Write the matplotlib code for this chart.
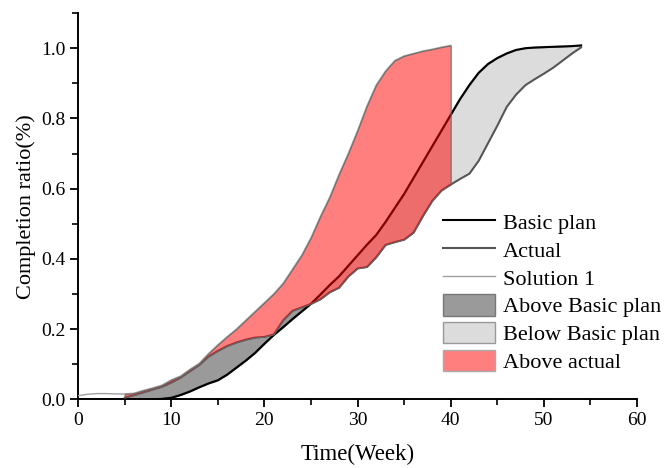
import matplotlib
matplotlib.use('Agg')
import matplotlib.pyplot as plt
import matplotlib.ticker as ticker
from matplotlib.patches import Patch
from matplotlib.lines import Line2D
import numpy as np

plt.rcParams['font.family'] = ['Liberation Serif', 'DejaVu Serif']

# ── Data (one value per week) ───────────────────────────────────────────────
weeks = np.arange(0, 55)
basic_plan = [0, 0, 0, 0, 0, 0, 0, 0, 0, 0.001,
              0.004, 0.012, 0.022, 0.034, 0.045, 0.054, 0.070, 0.090, 0.110, 0.132,
              0.158, 0.183, 0.205, 0.228, 0.250, 0.272, 0.298, 0.325, 0.350, 0.380,
              0.410, 0.440, 0.468, 0.505, 0.545, 0.585, 0.630, 0.675, 0.720, 0.765,
              0.810, 0.855, 0.895, 0.930, 0.955, 0.972, 0.985, 0.995, 1.000, 1.002,
              1.003, 1.004, 1.005, 1.006, 1.008]
actual = [np.nan, np.nan, np.nan, np.nan, np.nan, 0.005, 0.012, 0.020, 0.028, 0.036,
          0.048, 0.062, 0.080, 0.098, 0.122, 0.138, 0.152, 0.162, 0.170, 0.176,
          0.178, 0.185, 0.225, 0.252, 0.262, 0.272, 0.285, 0.305, 0.318, 0.350,
          0.373, 0.377, 0.405, 0.440, 0.448, 0.455, 0.475, 0.522, 0.565, 0.595,
          0.612, 0.628, 0.643, 0.680, 0.730, 0.780, 0.833, 0.868, 0.895, 0.912,
          0.928, 0.945, 0.965, 0.985, 1.003]
solution1 = [0.010, 0.014, 0.016, 0.016, 0.015, 0.015, 0.017, 0.025, 0.032, 0.040,
             0.055, 0.066, 0.085, 0.102, 0.130, 0.155, 0.178, 0.200, 0.225, 0.250,
             0.275, 0.300, 0.330, 0.370, 0.410, 0.460, 0.520, 0.575, 0.640, 0.700,
             0.765, 0.835, 0.895, 0.935, 0.965, 0.978, 0.985, 0.992, 0.997, 1.003,
             1.008] + [np.nan] * 14

basic_plan = np.array(basic_plan)
actual = np.array(actual)
solution1 = np.array(solution1)

# ── Figure ───────────────────────────────────────────────────────────────────
fig = plt.figure(figsize=(6.67, 4.68), dpi=100)
ax = fig.add_axes([0.117, 0.147, 0.838, 0.825])

has_act = ~np.isnan(actual)
has_sol = ~np.isnan(solution1) & has_act

ax.fill_between(weeks, actual, basic_plan, where=has_act & (actual <= basic_plan),
                interpolate=True, facecolor='#dcdcdc', edgecolor='#666666',
                linewidth=0.8, zorder=1)
ax.fill_between(weeks, actual, basic_plan, where=has_act & (actual >= basic_plan),
                interpolate=True, facecolor='#9a9a9a', edgecolor='#555555',
                linewidth=0.8, zorder=1)

ax.plot(weeks, basic_plan, color='black', linewidth=1.5, zorder=3)
ax.plot(weeks, actual, color='#555555', linewidth=1.2, zorder=3)
ax.plot(weeks, solution1, color='#a0a0a0', linewidth=1.0, zorder=3)

ax.fill_between(weeks, actual, solution1, where=has_sol,
                facecolor=(1, 0, 0, 0.5), edgecolor=(0.4, 0.4, 0.4, 0.9),
                linewidth=0.8, zorder=4)

ax.set_xlim(0, 60)
ax.set_ylim(0, 1.1)
ax.xaxis.set_major_locator(ticker.MultipleLocator(10))
ax.xaxis.set_minor_locator(ticker.MultipleLocator(5))
ax.yaxis.set_major_locator(ticker.FixedLocator([0, 0.2, 0.4, 0.6, 0.8, 1.0]))
ax.yaxis.set_minor_locator(ticker.FixedLocator([0.1, 0.3, 0.5, 0.7, 0.9, 1.1]))
ax.yaxis.set_major_formatter(ticker.FormatStrFormatter('%.1f'))
ax.spines['top'].set_visible(False)
ax.spines['right'].set_visible(False)
for s in ('left', 'bottom'):
    ax.spines[s].set_linewidth(1.4)
ax.tick_params(which='major', direction='out', length=6, width=1.3, pad=3,
               labelsize=14)
ax.tick_params(which='minor', direction='out', length=4, width=1.2)

ax.set_xlabel('Time(Week)', fontsize=16.5, labelpad=11)
ax.set_ylabel('Completion ratio(%)', fontsize=16, labelpad=4)

handles = [
    Line2D([], [], color='black', linewidth=1.5),
    Line2D([], [], color='#555555', linewidth=1.5),
    Line2D([], [], color='#a0a0a0', linewidth=1.0),
    Patch(facecolor='#9a9a9a', edgecolor='#777777', linewidth=1.0),
    Patch(facecolor='#dcdcdc', edgecolor='#999999', linewidth=1.0),
    Patch(facecolor='#ff7f7f', edgecolor='#aaaaaa', linewidth=1.0),
]
names = ['Basic plan', 'Actual', 'Solution 1', 'Above Basic plan',
         'Below Basic plan', 'Above actual']
ax.legend(handles, names, loc='upper left', bbox_to_anchor=(0.653, 0.487),
          frameon=False, fontsize=16, handlelength=2.35, handleheight=1.1,
          handletextpad=0.36, labelspacing=0.2, borderaxespad=0,
          borderpad=0)

fig.savefig('out.png', dpi=100)
